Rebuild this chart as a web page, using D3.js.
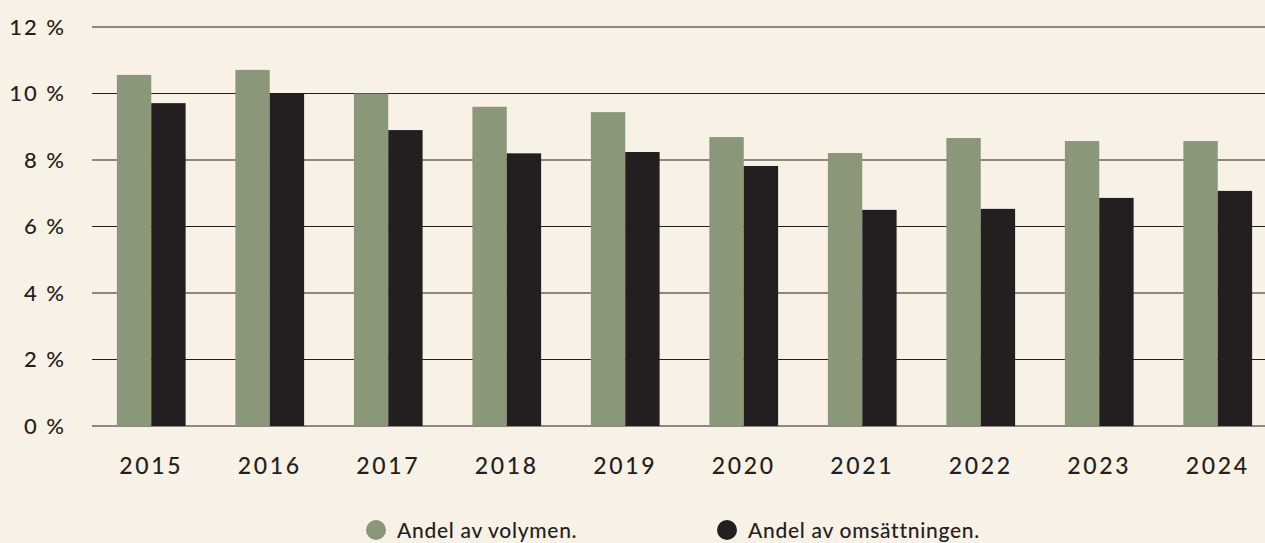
<!DOCTYPE html>
<html><head><meta charset="utf-8">
<script src="https://cdn.jsdelivr.net/npm/d3@7"></script>
<style>
html,body{margin:0;padding:0;background:#f8f1e6;}
svg{display:block;font-family:Lato,"Open Sans",sans-serif;}
</style></head><body>
<svg id="c" width="1265" height="543"></svg>
<script>
const years = ["2015","2016","2017","2018","2019","2020","2021","2022","2023","2024"];
const volym = [10.56,10.71,10.0,9.6,9.44,8.69,8.21,8.66,8.57,8.57];
const omsattning = [9.71,10.0,8.9,8.2,8.24,7.82,6.5,6.53,6.86,7.07];
const yTicks = [0,2,4,6,8,10,12];
const seriesNames = ["Andel av volymen.","Andel av omsättningen."];
const colors = ["#8a9778","#231f20"];

const svg = d3.select("#c");
const x = d3.scaleBand().domain(years).range([92,1277]).paddingInner(0.42).paddingOuter(0.21);
const xi = d3.scaleBand().domain([0,1]).range([0,x.bandwidth()]);
const y = d3.scaleLinear().domain([0,12]).range([426,27]);

svg.append("g").selectAll("line").data(yTicks).join("line")
  .attr("x1",92).attr("x2",1265)
  .attr("y1",d=>y(d)).attr("y2",d=>y(d))
  .attr("stroke","#231f20").attr("stroke-width",1.2);

svg.append("g").selectAll("text").data(yTicks).join("text")
  .attr("x",66).attr("y",d=>y(d)).attr("dy","0.36em")
  .attr("text-anchor","end").attr("font-size",22).attr("letter-spacing",2)
  .attr("font-weight",500)
  .attr("fill","#231f20").text(d=>d+" %");

const series = [volym, omsattning];
series.forEach((vals,si)=>{
  svg.append("g").selectAll("rect").data(years).join("rect")
    .attr("x",(d)=>x(d)+xi(si))
    .attr("width",xi.bandwidth())
    .attr("y",(d,i)=>y(vals[i]))
    .attr("height",(d,i)=>y(0)-y(vals[i]))
    .attr("fill",colors[si]);
});

svg.append("g").selectAll("text").data(years).join("text")
  .attr("x",d=>x(d)+x.bandwidth()/2).attr("y",474)
  .attr("text-anchor","middle").attr("font-size",23).attr("letter-spacing",2.6)
  .attr("font-weight",500)
  .attr("fill","#231f20").text(d=>d);

const legX = [376,727];
const lg = svg.append("g");
seriesNames.forEach((n,i)=>{
  lg.append("circle").attr("cx",legX[i]).attr("cy",530).attr("r",10).attr("fill",colors[i]);
  lg.append("text").attr("x",legX[i]+21).attr("y",538).attr("font-size",21)
    .attr("letter-spacing",0.7).attr("font-weight",500).attr("fill","#231f20").text(n);
});
</script>
</body></html>
